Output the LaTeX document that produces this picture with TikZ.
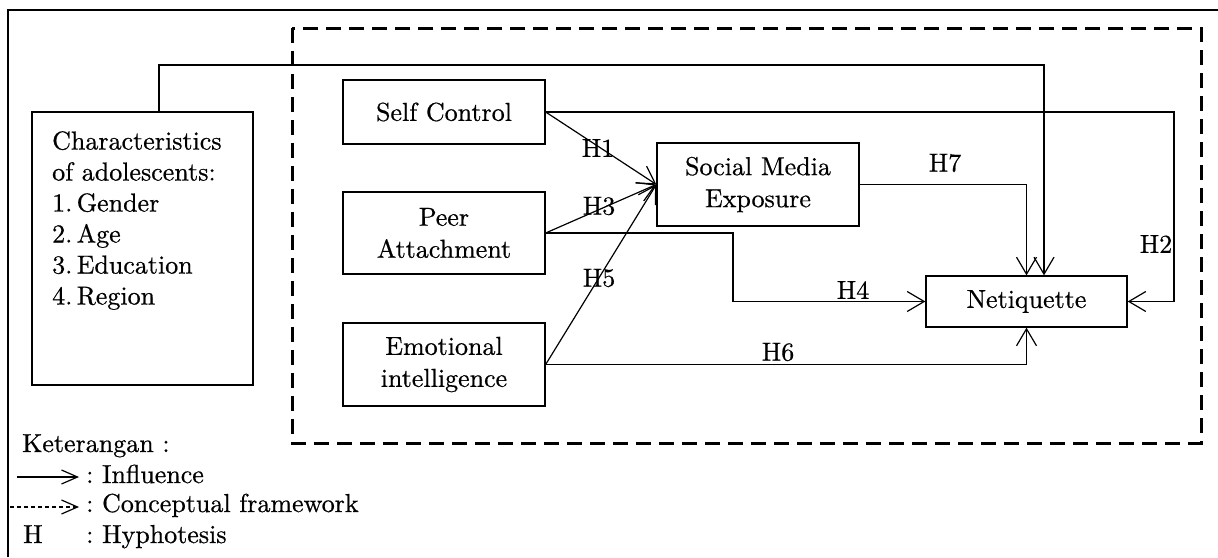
\documentclass[tikz,border=0pt]{standalone}
\usepackage{fontspec}
\setmainfont{lmroman10-regular}[Extension=.otf, FakeBold=0.6]
\usetikzlibrary{arrows.meta}
\frenchspacing
\begin{document}
\begin{tikzpicture}[x=1pt,y=-1pt,
  font=\fontsize{26}{31}\selectfont,
  box/.style={draw, line width=1.3pt, inner sep=0pt, align=center},
  conn/.style={line width=1.2pt, -{Straight Barb[length=17pt,width=20pt,line width=1.2pt]}},
  legarrow/.style={line width=1.2pt, -{Straight Barb[length=16pt,width=14pt,line width=1.2pt]}},
  hlab/.style={inner sep=0pt},
  txt/.style={inner sep=0pt, anchor=base west},
  frame/.style={line width=3pt, dash pattern=on 15pt off 8pt},
]
\useasboundingbox (0,0) rectangle (1218,557);
% outer frame (only left and top edges visible)
\draw[line width=1.8pt] (8,557) -- (8,10) -- (1218,10);
% conceptual framework
\draw[frame] (292,28) rectangle (1201,443);

% boxes
\node[box, minimum width=221pt, minimum height=273pt] (ch) at (142.5,248.5) {};
\node[inner sep=0pt, anchor=north west, align=left] (chtext) at (52,131)
  {Characteristics\\of adolescents:\\1.\,Gender\\2.\,Age\\3.\,Education\\4.\,Region};
\node[box, minimum width=202pt, minimum height=64pt] (sc) at (444,112) {Self Control};
\node[box, minimum width=202pt, minimum height=82pt] (pa) at (444,233) {Peer\\[1pt]Attachment};
\node[box, minimum width=202pt, minimum height=83pt] (ei) at (444,364.5) {Emotional\\[1pt]intelligence};
\node[box, minimum width=202pt, minimum height=83pt] (sm) at (758,184.5) {Social Media\\[1pt]Exposure};
\node[box, minimum width=201pt, minimum height=51pt] (net) at (1026.5,301.5) {Netiquette};

% connectors
\coordinate (c1) at (159,65);
\draw[conn] (ch.north -| c1) -- (c1) -| ([xshift=17.5pt]net.north);
\coordinate (h2c) at (1174,112);
\draw[conn] (sc.east) -- (h2c) |- (net.east);
\draw[conn] (sc.east) -- (sm.west);
\draw[conn] (pa.east) -- (sm.west);
\draw[conn] (ei.east) -- (sm.west);
\coordinate (h4c) at (733,233);
\draw[conn] (pa.east) -- (h4c) |- (net.west);
\draw[conn] (ei.east) -| (net.south);
\draw[conn] (sm.east) -| (net.north);

% hypothesis labels
\node[hlab] (lh1) at (598,148) {H1};
\node[hlab] (lh3) at (599,206) {H3};
\node[hlab] (lh5) at (599,278) {H5};
\node[hlab] (lh7) at (945,163) {H7};
\node[hlab] (lh2) at (1156,244) {H2};
\node[hlab] (lh4) at (853,290) {H4};
\node[hlab] (lh6) at (778,352) {H6};

% legend
\node[txt] (ket) at (22,452) {Keterangan :};
\coordinate (la1) at (17,477);
\coordinate (lb1) at (79,477);
\draw[legarrow] (la1) -- (lb1);
\node[txt] (inf) at (86,483) {: Influence};
\coordinate (la2) at (10,507);
\coordinate (lb2) at (79,507);
\draw[legarrow, dash pattern=on 4pt off 3pt] (la2) -- (lb2);
\node[txt] (cf) at (86,512) {: Conceptual framework};
\node[txt] (hh) at (23,543) {H};
\node[txt] (hyp) at (86,543) {: Hyphotesis};
\end{tikzpicture}
\end{document}
